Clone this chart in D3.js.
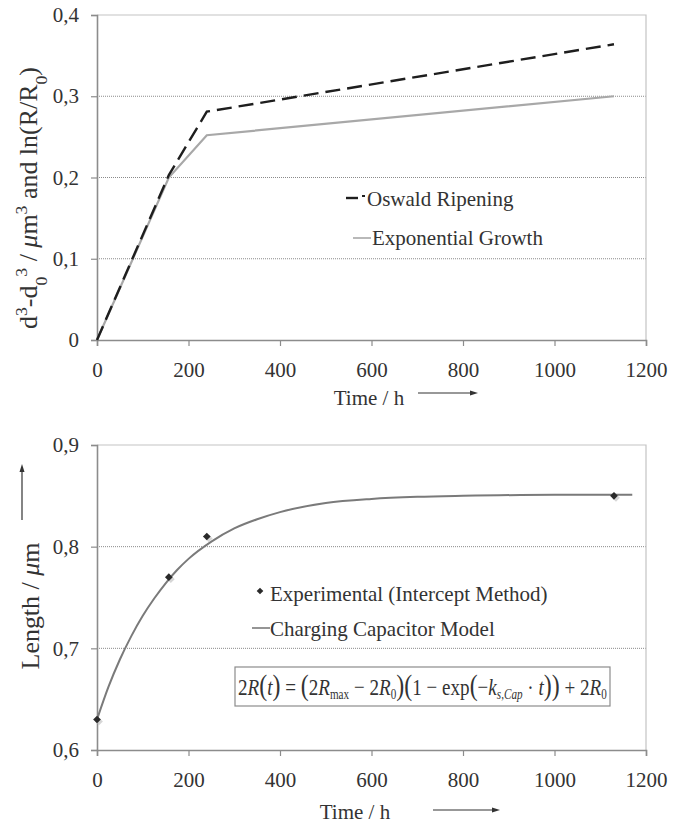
<!DOCTYPE html>
<html lang="en">
<head>
<meta charset="UTF-8">
<title>Growth charts</title>
<script src="https://cdn.jsdelivr.net/npm/d3@7/dist/d3.min.js"></script>
<style>
  body { margin: 0; background: #fff; }
  svg text { font-family: "Liberation Serif", "DejaVu Serif", serif; fill: #333; }
</style>
</head>
<body>
<script>
// data
var timeTop = [0, 157, 240, 1130];
var oswald = [0, 0.203, 0.281, 0.364];
var expGrowth = [0, 0.200, 0.252, 0.300];

var timeExp = [0, 157, 240, 1130];
var lengthExp = [0.63, 0.77, 0.81, 0.85];

// model curve, read point by point
var timeModel = [0, 25, 50, 75, 100, 125, 150, 175, 200, 250, 300, 350, 400, 500, 600, 700, 800, 1000, 1170];
var lengthModel = [0.630, 0.662, 0.689, 0.712, 0.732, 0.749, 0.764, 0.777, 0.788, 0.805, 0.818, 0.827, 0.834, 0.843, 0.847, 0.849, 0.850, 0.851, 0.851];

var xTicks = [0, 200, 400, 600, 800, 1000, 1200];
var yTicksTop = [0, 0.1, 0.2, 0.3, 0.4];
var yTicksBottom = [0.6, 0.7, 0.8, 0.9];

var width = 679, height = 823;
var svg = d3.select("body").append("svg").attr("width", width).attr("height", height)
	.attr("font-family", "Liberation Serif");

var left = 97, right = 646;
var fmt = function(d){ return d === 0 ? "0" : d3.format(".1f")(d).replace(".", ","); };

var x = d3.scaleLinear().domain([0, 1200]).range([left, right]);

function drawFrame(y, ticks, top, bottom) {
	var g = svg.append("g");
	// dotted grid
	g.selectAll(".grid").data(ticks.slice(1, -1)).enter().append("line")
		.attr("x1", left).attr("x2", right)
		.attr("y1", function(d){ return y(d); }).attr("y2", function(d){ return y(d); })
		.attr("stroke", "#8a8a8a").attr("stroke-width", 1).attr("stroke-dasharray", "1,1");
	// border top + right
	g.append("path").attr("d", "M" + left + "," + top + "H" + right + "V" + bottom)
		.attr("fill", "none").attr("stroke", "#c4c4c4").attr("stroke-width", 1.2);

	var xAxis = d3.axisBottom(x).tickValues(xTicks).tickSize(6).tickPadding(12).tickFormat(d3.format("d"));
	var gx = g.append("g").attr("transform", "translate(0," + bottom + ")").call(xAxis);
	var yAxis = d3.axisLeft(y).tickValues(ticks).tickSize(6).tickPadding(12).tickFormat(fmt);
	var gy = g.append("g").attr("transform", "translate(" + left + ",0)").call(yAxis);
	[gx, gy].forEach(function(a){
		a.attr("font-family", null).attr("font-size", null);
		a.select(".domain").attr("stroke", "#8c8c8c").attr("stroke-width", 1.6);
		a.selectAll(".tick line").attr("stroke", "#8c8c8c").attr("stroke-width", 1.2);
		a.selectAll(".tick text").attr("font-size", 21).attr("fill", "#333");
	});
	gx.selectAll(".tick text").attr("dy", "0.9em");
	return g;
}

function arrowH(x1, x2, yy) {
	svg.append("line").attr("x1", x1).attr("x2", x2 - 6).attr("y1", yy).attr("y2", yy)
		.attr("stroke", "#333").attr("stroke-width", 1.2);
	svg.append("path").attr("d", "M" + x2 + "," + yy + "l-8,-2.5v5z").attr("fill", "#333");
}

// fit a text element to a given length by changing its font size
function fitText(t, target) {
	var fs = +t.attr("font-size");
	var w = t.node().getComputedTextLength();
	var k = target / w;
	t.attr("font-size", fs * k);
	t.selectAll("tspan").each(function(){
		var s = d3.select(this);
		if (s.attr("font-size")) s.attr("font-size", +s.attr("font-size") * k);
	});
}

// ---------- top chart ----------
var top1 = 15, bot1 = 340;
var y1 = d3.scaleLinear().domain([0, 0.4]).range([bot1, top1]);
drawFrame(y1, yTicksTop, top1, bot1);

var line1 = d3.line().x(function(d){ return x(d[0]); }).y(function(d){ return y1(d[1]); });
svg.append("path").datum(d3.zip(timeTop, expGrowth)).attr("d", line1)
	.attr("fill", "none").attr("stroke", "#a8a8a8").attr("stroke-width", 2.2);
svg.append("path").datum(d3.zip(timeTop, oswald)).attr("d", line1)
	.attr("fill", "none").attr("stroke", "#1e1e1e").attr("stroke-width", 2.4)
	.attr("stroke-dasharray", "15,7");

// legend top
svg.append("line").attr("x1", 346).attr("x2", 358).attr("y1", 198).attr("y2", 198)
	.attr("stroke", "#1e1e1e").attr("stroke-width", 2.4);
svg.append("line").attr("x1", 362).attr("x2", 365).attr("y1", 196).attr("y2", 196)
	.attr("stroke", "#1e1e1e").attr("stroke-width", 2);
svg.append("text").attr("x", 367).attr("y", 199).attr("dominant-baseline", "central")
	.attr("font-size", 21).text("Oswald Ripening");
svg.append("line").attr("x1", 353).attr("x2", 371).attr("y1", 238).attr("y2", 238)
	.attr("stroke", "#a8a8a8").attr("stroke-width", 1.6);
svg.append("text").attr("x", 372).attr("y", 238).attr("dominant-baseline", "central")
	.attr("font-size", 21).text("Exponential Growth");

// axis titles top
svg.append("text").attr("x", 369).attr("y", 398).attr("text-anchor", "middle")
	.attr("dominant-baseline", "central").attr("font-size", 21).text("Time / h");
arrowH(418, 478, 393);

var yl = svg.append("text").attr("transform", "translate(37,198) rotate(-90)")
	.attr("text-anchor", "middle").attr("font-size", 22);
yl.append("tspan").text("d");
yl.append("tspan").attr("font-size", 15).attr("baseline-shift", "super").text("3");
yl.append("tspan").text("-d");
yl.append("tspan").attr("font-size", 15).attr("baseline-shift", "sub").text("0");
yl.append("tspan").attr("font-size", 15).attr("baseline-shift", "super").text("3");
yl.append("tspan").text(" / ");
yl.append("tspan").attr("font-style", "italic").text("μ");
yl.append("tspan").text("m");
yl.append("tspan").attr("font-size", 15).attr("baseline-shift", "super").text("3");
yl.append("tspan").text(" and ln(R/R");
yl.append("tspan").attr("font-size", 15).attr("baseline-shift", "sub").text("0");
yl.append("tspan").text(")");
fitText(yl, 262);

// ---------- bottom chart ----------
var top2 = 445, bot2 = 750;
var y2 = d3.scaleLinear().domain([0.6, 0.9]).range([bot2, top2]);
drawFrame(y2, yTicksBottom, top2, bot2);

var line2 = d3.line().curve(d3.curveMonotoneX)
	.x(function(d){ return x(d[0]); }).y(function(d){ return y2(d[1]); });
svg.append("path").datum(d3.zip(timeModel, lengthModel)).attr("d", line2)
	.attr("fill", "none").attr("stroke", "#7a7a7a").attr("stroke-width", 2);

var diamond = d3.symbol().type(d3.symbolSquare).size(30);
svg.selectAll(".shadow").data(d3.zip(timeExp, lengthExp)).enter().append("path")
	.attr("d", diamond).attr("fill", "#bbb").attr("opacity", 0.6)
	.attr("transform", function(d){ return "translate(" + (x(d[0]) + 2) + "," + (y2(d[1]) + 2) + ") rotate(45)"; });
svg.selectAll(".pt").data(d3.zip(timeExp, lengthExp)).enter().append("path")
	.attr("d", diamond).attr("fill", "#2a2a2a")
	.attr("transform", function(d){ return "translate(" + x(d[0]) + "," + y2(d[1]) + ") rotate(45)"; });

// legend bottom
svg.append("path").attr("d", d3.symbol().type(d3.symbolSquare).size(22)).attr("fill", "#2a2a2a")
	.attr("transform", "translate(260,591) rotate(45)");
svg.append("text").attr("x", 270).attr("y", 594).attr("dominant-baseline", "central")
	.attr("font-size", 21).text("Experimental (Intercept Method)");
svg.append("line").attr("x1", 252).attr("x2", 270).attr("y1", 628).attr("y2", 628)
	.attr("stroke", "#7a7a7a").attr("stroke-width", 1.6);
svg.append("text").attr("x", 270).attr("y", 629).attr("dominant-baseline", "central")
	.attr("font-size", 21).text("Charging Capacitor Model");

// equation box
svg.append("rect").attr("x", 235).attr("y", 667).attr("width", 375).attr("height", 39)
	.attr("fill", "#fff").attr("stroke", "#8c8c8c").attr("stroke-width", 1.2);
var eq = svg.append("text").attr("font-size", 24);
function part(t, opt) {
	var s = eq.append("tspan").text(t);
	opt = opt || {};
	if (opt.it) s.attr("font-style", "italic");
	if (opt.size) s.attr("font-size", opt.size);
	if (opt.sub) s.attr("font-size", 14).attr("baseline-shift", "-30%");
	return s;
}
part("2"); part("R", {it: 1}); part("(", {size: 30}); part("t", {it: 1}); part(")", {size: 30});
part(" = "); part("(", {size: 30}); part("2"); part("R", {it: 1}); part("max", {sub: 1});
part(" − 2"); part("R", {it: 1}); part("0", {sub: 1}); part(")", {size: 30});
part("(", {size: 30}); part("1 − exp"); part("(", {size: 30}); part("−"); part("k", {it: 1});
part("s,Cap", {sub: 1, it: 1}); part(" · "); part("t", {it: 1}); part(")", {size: 30}); part(")", {size: 30});
part(" + 2"); part("R", {it: 1}); part("0", {sub: 1});
var eqW = eq.node().getComputedTextLength();
eq.attr("transform", "translate(238,695) scale(" + (369 / eqW) + ",1)");

// axis titles bottom
svg.append("text").attr("x", 355).attr("y", 812).attr("text-anchor", "middle")
	.attr("dominant-baseline", "central").attr("font-size", 21).text("Time / h");
arrowH(433, 500, 810);

var yl2 = svg.append("text").attr("transform", "translate(30,606) rotate(-90)")
	.attr("text-anchor", "middle").attr("dominant-baseline", "central").attr("font-size", 23);
yl2.append("tspan").text("Length / ");
yl2.append("tspan").attr("font-style", "italic").text("μ");
yl2.append("tspan").text("m");
fitText(yl2, 127);
// upward arrow next to label
svg.append("line").attr("x1", 22).attr("x2", 22).attr("y1", 520).attr("y2", 471)
	.attr("stroke", "#333").attr("stroke-width", 1.2);
svg.append("path").attr("d", "M22,464l-2.5,8h5z").attr("fill", "#333");
</script>
</body>
</html>
